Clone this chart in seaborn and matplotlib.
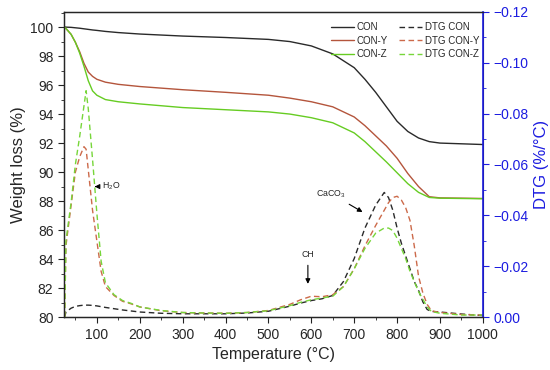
import matplotlib
matplotlib.use("Agg")
import matplotlib.pyplot as plt
import seaborn as sns
from matplotlib.ticker import MultipleLocator, FuncFormatter

# temperature grid for the TG curves
temp_tg = [25, 40, 50, 60, 70, 80, 90, 100, 120, 150, 200, 300, 400, 500, 550,
           600, 650, 700, 725, 750, 775, 800, 825, 850, 875, 900, 950, 1000]
tg_con = [100.0, 99.98, 99.95, 99.92, 99.88, 99.84, 99.80, 99.77, 99.7, 99.62,
          99.52, 99.38, 99.28, 99.15, 99.0, 98.7, 98.15, 97.2, 96.4, 95.5,
          94.5, 93.5, 92.8, 92.35, 92.1, 92.0, 91.95, 91.9]
tg_con_y = [100.0, 99.5, 98.95, 98.3, 97.5, 96.9, 96.6, 96.4, 96.2, 96.05,
            95.9, 95.68, 95.5, 95.3, 95.1, 94.85, 94.5, 93.8, 93.2, 92.5,
            91.8, 90.95, 89.9, 89.0, 88.3, 88.22, 88.2, 88.18]
tg_con_z = [100.0, 99.5, 98.95, 98.2, 97.3, 96.3, 95.6, 95.3, 95.0, 94.85,
            94.7, 94.45, 94.3, 94.15, 94.0, 93.75, 93.4, 92.7, 92.1, 91.4,
            90.7, 89.95, 89.2, 88.6, 88.25, 88.2, 88.18, 88.16]

# temperature grid for the DTG curves
temp_dtg = [25, 28, 40, 50, 60, 70, 75, 80, 90, 100, 110, 120, 140, 160, 180,
            200, 250, 300, 350, 400, 450, 500, 550, 575, 600, 625, 650, 675,
            700, 725, 750, 770, 780, 790, 800, 810, 820, 830, 840, 850, 860,
            870, 880, 900, 950, 1000]
dtg_con = [0.0, -0.002, -0.0035, -0.0042, -0.0045, -0.0047, -0.0047, -0.0047,
           -0.0046, -0.0044, -0.0041, -0.0038, -0.0033, -0.0028, -0.0024,
           -0.0020, -0.0015, -0.0013, -0.0013, -0.0013, -0.0016, -0.0023,
           -0.0043, -0.0055, -0.0065, -0.0072, -0.0085, -0.014, -0.023,
           -0.035, -0.044, -0.049, -0.047, -0.042, -0.035, -0.029, -0.024,
           -0.019, -0.014, -0.0105, -0.006, -0.003, -0.0022, -0.002, -0.0012,
           -0.0006]
dtg_con_y = [0.0, -0.028, -0.044, -0.057, -0.063, -0.067, -0.066, -0.058,
             -0.042, -0.030, -0.018, -0.012, -0.0085, -0.0062, -0.0052,
             -0.0040, -0.0025, -0.0018, -0.0016, -0.0015, -0.0018, -0.0026,
             -0.005, -0.0068, -0.0082, -0.0080, -0.0088, -0.012, -0.019,
             -0.028, -0.036, -0.042, -0.045, -0.047, -0.0475, -0.046, -0.043,
             -0.038, -0.028, -0.016, -0.0095, -0.005, -0.0025, -0.0018,
             -0.001, -0.0008]
dtg_con_z = [0.0, -0.030, -0.045, -0.060, -0.071, -0.083, -0.089, -0.082,
             -0.062, -0.041, -0.022, -0.0135, -0.0088, -0.0065, -0.0054,
             -0.0040, -0.0026, -0.0018, -0.0016, -0.0015, -0.0018, -0.0025,
             -0.0045, -0.0058, -0.0068, -0.0075, -0.0082, -0.012, -0.019,
             -0.027, -0.033, -0.035, -0.035, -0.034, -0.031, -0.027, -0.023,
             -0.018, -0.014, -0.010, -0.007, -0.004, -0.0022, -0.0015,
             -0.0008, -0.0008]

sns.set_style("ticks")
plt.rcParams['font.family'] = ['Liberation Sans', 'DejaVu Sans']
plt.rcParams['mathtext.default'] = 'regular'

c_black = '#2a2a2a'
c_red = '#b4553c'
c_green = '#66cc22'
c_blue = '#1c1ce0'

fig = plt.figure(figsize=(5.5, 3.7), dpi=100)
ax = fig.add_axes([0.116, 0.143, 0.762, 0.825])
ax2 = ax.twinx()

sns.lineplot(x=temp_tg, y=tg_con, ax=ax, color=c_black, lw=1, label='CON')
sns.lineplot(x=temp_tg, y=tg_con_y, ax=ax, color=c_red, lw=1, label='CON-Y')
sns.lineplot(x=temp_tg, y=tg_con_z, ax=ax, color=c_green, lw=1, label='CON-Z')

dash = (4, 2.5)
sns.lineplot(x=temp_dtg, y=dtg_con, ax=ax2, color=c_black, lw=1,
             label='DTG CON').lines[-1].set_dashes(dash)
sns.lineplot(x=temp_dtg, y=dtg_con_y, ax=ax2, color='#cc6a4a', lw=1,
             label='DTG CON-Y').lines[-1].set_dashes(dash)
sns.lineplot(x=temp_dtg, y=dtg_con_z, ax=ax2, color='#77d63a', lw=1,
             label='DTG CON-Z').lines[-1].set_dashes(dash)

ax.set_xlim(23, 1000)
ax.set_ylim(80, 101.05)
ax2.set_ylim(0.0, -0.12)

ax.xaxis.set_major_locator(MultipleLocator(100))
ax.xaxis.set_minor_locator(MultipleLocator(50))
ax.yaxis.set_major_locator(MultipleLocator(2))
ax.yaxis.set_minor_locator(MultipleLocator(1))
ax2.yaxis.set_major_locator(MultipleLocator(0.02))
ax2.yaxis.set_minor_locator(MultipleLocator(0.01))
ax2.yaxis.set_major_formatter(FuncFormatter(
    lambda v, p: ('\u2212' if v < -1e-9 else '') + f'{abs(v):.2f}'))

ax.tick_params(which='both', direction='out', labelsize=10, color='#222222')
ax.tick_params(which='major', length=4)
ax.tick_params(which='minor', length=2.5)
ax2.tick_params(which='both', direction='out', labelsize=10, colors=c_blue)
ax2.tick_params(which='major', length=4)
ax2.tick_params(which='minor', length=2.5)
ax2.spines['right'].set_color(c_blue)
ax2.spines['right'].set_linewidth(1.2)
for s in ['left', 'bottom', 'top']:
    ax.spines[s].set_linewidth(1)

ax.set_xlabel('Temperature (°C)', fontsize=11.5)
ax.set_ylabel('Weight loss (%)', fontsize=12, labelpad=3)
ax2.set_ylabel('DTG (%/°C)', fontsize=12, color=c_blue, labelpad=4)

# legend from both axes
h1, l1 = ax.get_legend_handles_labels()
h2, l2 = ax2.get_legend_handles_labels()
ax2.get_legend().remove()
ax.legend(h1 + h2, l1 + l2, ncol=2, loc='upper right', frameon=False,
          fontsize=7, handlelength=2.3, handletextpad=0.3, columnspacing=1.2,
          labelspacing=0.35, bbox_to_anchor=(1.012, 0.995))

arrow = dict(arrowstyle='-|>', color='black', lw=0.8, mutation_scale=7)
ax.annotate('H$_2$O', xy=(95, 89.0), xytext=(112, 89.0), fontsize=6.3,
            va='center', arrowprops=arrow)
ax.annotate('CH', xy=(592, 82.1), xytext=(592, 84.3), fontsize=6.3,
            ha='center', va='center', arrowprops=arrow)
ax.annotate('CaCO$_3$', xy=(725, 87.15), xytext=(612, 88.5), fontsize=6.3,
            va='center', arrowprops=arrow)

fig.savefig('out.png', dpi=100)
